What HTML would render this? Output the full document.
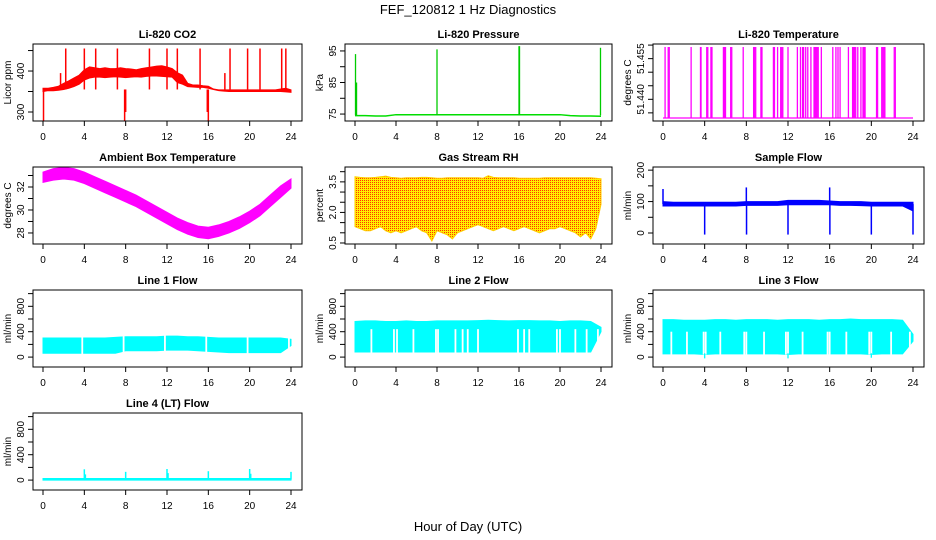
<!DOCTYPE html>
<html><head><meta charset="utf-8"><style>
html,body{margin:0;padding:0;background:#fff;}
svg{display:block;font-family:"Liberation Sans",sans-serif;}
</style></head><body>
<svg id="c" width="936" height="540" viewBox="0 0 936 540">
<defs>
<pattern id="rhpat" width="2" height="2" patternUnits="userSpaceOnUse">
<rect width="2" height="2" fill="#ffee00"/><rect x="0" y="0" width="1" height="1" fill="#ff3300"/>
</pattern>
</defs>
<text x="468" y="14" text-anchor="middle" font-size="13">FEF_120812  1 Hz Diagnostics</text>
<text x="468" y="531" text-anchor="middle" font-size="13">Hour of Day (UTC)</text>
</svg>
<script>
// ---- data ----
var hours = [0,1,2,3,4,5,6,7,8,9,10,11,12,13,14,15,16,17,18,19,20,21,22,23,24];
var halfHours = [0,0.5,1,1.5,2,2.5,3,3.5,4,4.5,5,5.5,6,6.5,7,7.5,8,8.5,9,9.5,10,10.5,11,11.5,12,12.5,13,13.5,14,14.5,15,15.5,16,16.5,17,17.5,18,18.5,19,19.5,20,20.5,21,21.5,22,22.5,23,23.5,24];
var xTicks = [0,4,8,12,16,20,24];

var co2Lo = [350,352,352,353,355,358,362,368,378,383,385,385,384,385,386,385,384,385,386,385,387,388,388,387,386,385,372,368,362,361,360,360,358,355,352,351,350,350,350,350,350,350,350,350,350,350,350,349,348];
var co2Hi = [358,358,360,363,370,376,383,390,403,410,408,406,408,406,406,408,406,405,403,406,408,410,412,413,410,406,396,390,370,366,366,364,363,356,354,354,354,354,354,354,354,354,354,354,354,354,356,358,354];
var co2SpikeT = [0.05,1.7,2.2,4.0,5.1,7.2,7.9,8.0,10.3,12.0,13.0,15.2,15.9,16.0,17.6,18.1,19.8,21.0,23.1,23.5];
var co2SpikeV = [278,395,455,455,455,455,278,300,455,455,455,455,300,278,395,455,455,455,455,455];

var presBase = [74.5,74.5,74.4,74.4,74.8,74.8,74.8,74.8,74.8,74.8,74.8,74.8,74.8,74.8,74.8,74.8,74.8,74.8,74.8,74.8,74.8,74.5,74.4,74.4,74.3];
var presSpikeT = [0.05,0.15,8.0,16.0,16.05,23.95];
var presSpikeV = [94,85,95.5,96.5,96.5,96];

var tempBase = 51.4331;
var tempSpikeTop = 51.4593;
var tempSpikeT = [0.2,0.5,0.6,2.7,3.6,3.65,4.2,4.3,4.6,4.7,5.8,5.9,6.0,6.5,6.6,7.7,8.7,8.8,8.9,9.4,9.5,10.6,10.7,11.0,11.3,11.4,11.5,12.0,12.9,13.2,13.4,13.5,13.7,13.9,14.2,14.5,14.6,14.7,14.8,14.9,15.2,16.3,16.6,16.8,17.0,17.8,18.2,18.3,18.4,18.5,18.7,19.0,19.2,19.3,19.4,20.5,20.6,21.0,21.1,21.2,21.3,22.2,22.3];

var ambLo = [32.4,32.6,32.7,32.6,32.3,31.9,31.5,31.1,30.7,30.3,29.8,29.3,28.8,28.3,27.9,27.6,27.5,27.7,28.0,28.4,28.9,29.5,30.3,31.1,31.9];
var ambHi = [33.3,33.6,33.7,33.6,33.3,32.9,32.5,32.1,31.7,31.3,30.8,30.3,29.8,29.3,28.9,28.6,28.5,28.7,29.0,29.4,29.9,30.5,31.3,32.1,32.7];

var rhLo = [1.3,1.2,1.1,1.1,1.2,1.3,1.1,1.0,1.1,1.0,1.1,1.2,1.3,1.1,1.0,0.6,1.1,1.0,0.9,0.7,1.0,1.1,1.2,1.3,1.4,1.3,1.2,1.1,1.2,1.3,1.2,1.1,1.2,1.3,1.2,1.1,1.0,1.1,1.2,1.2,1.3,1.2,1.1,1.0,0.8,1.0,0.7,1.2,2.4];
var rhHi = [3.75,3.72,3.7,3.7,3.72,3.75,3.78,3.72,3.7,3.68,3.7,3.7,3.7,3.72,3.72,3.7,3.68,3.68,3.7,3.7,3.7,3.7,3.7,3.7,3.7,3.68,3.8,3.72,3.7,3.7,3.7,3.7,3.68,3.68,3.68,3.68,3.68,3.7,3.7,3.7,3.7,3.7,3.7,3.7,3.7,3.7,3.7,3.68,3.65];

var sfLo = [86,86,86,86,86,86,86,86,88,88,88,88,90,90,90,90,90,88,88,87,86,86,86,86,70];
var sfHi = [100,98,98,98,98,98,98,98,100,100,100,100,104,104,104,104,102,100,100,100,98,98,98,98,98];
var sfSpikeT = [0.0,4.0,8.0,8.02,12.0,16.0,16.02,20.0,24.0];
var sfSpikeV = [140,-5,145,-5,-5,145,-5,-5,-5];

var l1Lo = [60,60,60,60,60,60,60,60,100,100,100,100,110,110,110,100,90,80,70,70,70,70,70,70,180];
var l1Hi = [300,300,300,300,300,300,300,310,320,320,320,320,330,330,320,320,310,300,300,300,300,300,300,300,280];
var l1Gaps = [3.8,7.8,11.8,15.8,19.8,23.8];

var l2Lo = [80,80,80,80,80,80,80,80,80,80,80,80,80,80,80,80,80,80,80,80,80,80,80,80,400];
var l2Hi = [560,570,570,560,560,570,560,560,570,570,570,570,575,580,575,570,575,575,570,570,560,570,570,560,470];
var l2Gaps = [1.6,3.8,4.1,5.7,7.9,8.1,9.8,10.5,11.0,12.0,15.9,16.5,17.0,19.7,20.0,21.5,22.6,23.7];

var l3Lo = [50,50,50,50,40,50,50,50,50,50,50,50,40,50,50,50,50,50,50,50,40,50,50,50,250];
var l3Hi = [590,590,580,580,580,590,590,580,590,590,590,580,590,590,590,580,590,590,600,590,590,590,590,580,360];
var l3Gaps = [0.8,2.3,3.9,4.1,5.5,7.8,8.0,9.7,11.8,12.0,13.4,15.8,16.0,17.6,19.8,20.0,21.9,23.7];
var l3DipT = [4.0,12.0,20.0];
var l3DipV = [-20,-20,-10];

var l4Lo = [0,0,0,0,0,0,0,0,0,0,0,0,0,0,0,0,0,0,0,0,0,0,0,0,0];
var l4Hi = [25,25,25,25,25,25,25,25,25,25,25,25,25,25,25,25,25,25,25,25,25,25,25,25,25];
var l4SpikeT = [4.0,4.1,8.0,12.0,12.1,16.0,20.0,20.1,24.0];
var l4SpikeV = [170,90,130,175,110,140,175,100,130];

// ---- drawing ----
var NS = "http://www.w3.org/2000/svg";
var svg = document.getElementById('c');
function mk(tag, attrs, parent){ var e=document.createElementNS(NS,tag); for(var k in attrs) e.setAttribute(k,attrs[k]); (parent||svg).appendChild(e); return e; }
var colL = [33,345,653], colR = [302,612,924];
var rowT = [44,167,290,413], H = 77;

function panel(col,row,name,title,ylab,ymin,ymax,ticks,labels,labelVals){
  var L=colL[col], R=colR[col], T=rowT[row], B=T+H;
  var g = mk('g',{});
  
  
  var p = {g:g,L:L,R:R,T:T,B:B,
    x:function(h){return (L+10)+h/24*((R-11)-(L+10));},
    y:function(v){return B-(v-ymin)/(ymax-ymin)*H;}};
  var t = mk('text',{x:(L+R)/2,y:T-6,'text-anchor':'middle','font-size':'11','font-weight':'bold'},g);
  t.textContent = title;
  
  
  var xa = mk('g',{},g);
  
  
  xTicks.forEach(function(h){
    var xx=p.x(h);
    mk('line',{x1:xx,x2:xx,y1:B,y2:B+5,stroke:'#000'},xa);
    var tl=mk('text',{x:xx,y:B+19,'text-anchor':'middle','font-size':'10'},xa);
    tl.textContent=h;
  });
  var ya = mk('g',{},g);
  
  
  ticks.forEach(function(v){ var yy=p.y(v); mk('line',{x1:L-5,x2:L,y1:yy,y2:yy,stroke:'#000'},ya); });
  labelVals.forEach(function(v,i){
    var yy=p.y(v);
    var tl=mk('text',{x:0,y:0,'text-anchor':'middle','font-size':'10',transform:'translate('+(L-9)+','+yy+') rotate(-90)'},ya);
    tl.textContent=labels[i];
  });
  var yl=mk('text',{x:0,y:0,'text-anchor':'middle','font-size':'10',transform:'translate('+(L-22)+','+((T+B)/2)+') rotate(-90)'},g);
  yl.textContent=ylab;
  
  
  p.finish=function(){ mk('rect',{x:L,y:T,width:R-L,height:H,fill:'none',stroke:'#000'},g); };
  return p;
}
function band(p,xs,lo,hi,fill,name){
  var pts=[]; for(var i=0;i<xs.length;i++) pts.push(p.x(xs[i])+','+p.y(hi[i]));
  for(var j=xs.length-1;j>=0;j--) pts.push(p.x(xs[j])+','+p.y(lo[j]));
  var e=mk('polygon',{points:pts.join(' '),fill:fill,stroke:fill==='url(#rhpat)'?'#ffcc00':fill,'stroke-width':'1'},p.g);
  
  
}
function spikes(p,ts,vs,base,color,name,w){
  for(var i=0;i<ts.length;i++){
    var e=mk('line',{x1:p.x(ts[i]),x2:p.x(ts[i]),y1:p.y(base),y2:p.y(vs[i]),stroke:color,'stroke-width':w||1.3},p.g);
    
    
  }
}
function gaps(p,ts,lo,hi,name){
  for(var i=0;i<ts.length;i++){
    var e=mk('line',{x1:p.x(ts[i]),x2:p.x(ts[i]),y1:p.y(hi),y2:p.y(lo),stroke:'#fff','stroke-width':1.8},p.g);
    
    
  }
}
function line(p,xs,vs,color,name,w){
  var pts=xs.map(function(h,i){return p.x(h)+','+p.y(vs[i]);}).join(' ');
  var e=mk('polyline',{points:pts,fill:'none',stroke:color,'stroke-width':w||1.5},p.g);
  
  
}

var p=panel(0,0,'co2','Li-820 CO2','Licor ppm',278,466,[300,350,400,450],['300','400'],[300,400]);
band(p,halfHours,co2Lo,co2Hi,'#ff0000','co2-band');
spikes(p,co2SpikeT,co2SpikeV,355,'#ff0000','co2-spike',1.5);
p.finish();
p=panel(1,0,'pressure','Li-820 Pressure','kPa',72.8,97.2,[75,80,85,90,95],['75','85','95'],[75,85,95]);
line(p,hours,presBase,'#00dd00','pressure-line',1.5);
spikes(p,presSpikeT,presSpikeV,74.6,'#00cc00','pressure-spike',1.3);
p.finish();
p=panel(2,0,'li820-temp','Li-820 Temperature','degrees C',51.432,51.4604,[51.435,51.44,51.445,51.45,51.455,51.46],['51.440','51.455'],[51.44,51.455]);
line(p,[0,24],[tempBase,tempBase],'#ff00ff','temp-baseline',1.3);
spikes(p,tempSpikeT,tempSpikeT.map(function(){return tempSpikeTop;}),tempBase,'#ff00ff','temp-spike',1.3);
p.finish();
p=panel(0,1,'ambient-temp','Ambient Box Temperature','degrees C',27.04,33.74,[28,29,30,31,32,33],['28','30','32'],[28,30,32]);
band(p,hours,ambLo,ambHi,'#ff00ff','ambient-band');
p.finish();
p=panel(1,1,'gas-rh','Gas Stream RH','percent',0.45,4.23,[0.5,1,1.5,2,2.5,3,3.5,4],['0.5','2.0','3.5'],[0.5,2.0,3.5]);
band(p,halfHours,rhLo,rhHi,'url(#rhpat)','rh-band');
p.finish();
p=panel(2,1,'sample-flow','Sample Flow','ml/min',-35,210,[0,50,100,150,200],['0','100','200'],[0,100,200]);
band(p,hours,sfLo,sfHi,'#0000ff','sample-flow-band');
spikes(p,sfSpikeT,sfSpikeV,92,'#0000ff','sample-flow-spike',1.5);
p.finish();
var lt=[0,200,400,600,800,1000], ll=['0','400','800'], lv=[0,400,800];
p=panel(0,2,'line1-flow','Line 1 Flow','ml/min',-156,1057,lt,ll,lv);
band(p,hours,l1Lo,l1Hi,'#00ffff','line1-band');
gaps(p,l1Gaps,40,340,'line1-gap');
p.finish();
p=panel(1,2,'line2-flow','Line 2 Flow','ml/min',-156,1057,lt,ll,lv);
band(p,hours,l2Lo,l2Hi,'#00ffff','line2-band');
gaps(p,l2Gaps,70,440,'line2-gap');
p.finish();
p=panel(2,2,'line3-flow','Line 3 Flow','ml/min',-156,1057,lt,ll,lv);
band(p,hours,l3Lo,l3Hi,'#00ffff','line3-band');
gaps(p,l3Gaps,40,400,'line3-gap');
spikes(p,l3DipT,l3DipV,60,'#00ffff','line3-dip',1.3);
p.finish();
p=panel(0,3,'line4-flow','Line 4 (LT) Flow','ml/min',-156,1057,lt,ll,lv);
band(p,hours,l4Lo,l4Hi,'#00ffff','line4-band');
spikes(p,l4SpikeT,l4SpikeV,10,'#00ffff','line4-spike',1.5);
p.finish();
</script>
</body></html>
